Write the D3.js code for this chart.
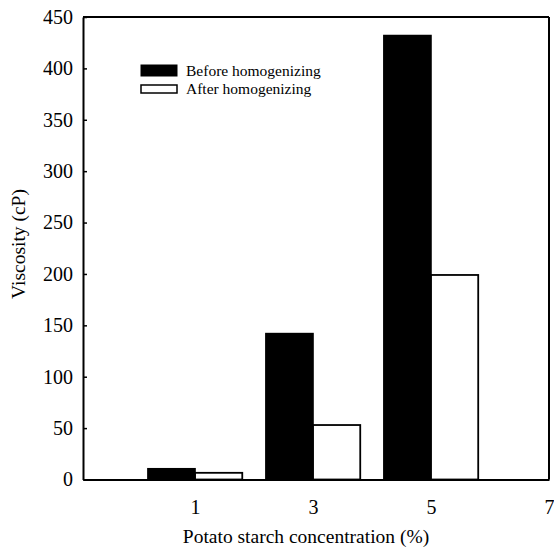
<!DOCTYPE html>
<html><head><meta charset="utf-8">
<script src="https://cdn.jsdelivr.net/npm/d3@7"></script>
<style>html,body{margin:0;padding:0;background:#fff;}svg{display:block;}</style>
</head><body>
<script>
const concentrations = [1, 3, 5];
const beforeValues = [10.5, 142, 432];
const afterValues = [6.5, 53, 199];
const seriesNames = ["Before homogenizing", "After homogenizing"];
const xTickLabels = [1, 3, 5, 7];
const yTickValues = [0, 50, 100, 150, 200, 250, 300, 350, 400, 450];

const W = 554, H = 547;
const svg = d3.select("body").append("svg").attr("width", W).attr("height", H)
  .style("font-family", "'Liberation Serif','Times New Roman',serif");

const x = d3.scaleLinear().domain([-0.9, 7]).range([83, 549]);
const y = d3.scaleLinear().domain([0, 450]).range([479.5, 17]);
const bw = 0.8;

const g = svg.append("g");

// bars
const before = concentrations.map((c, i) => ({c, v: beforeValues[i]}));
const after = concentrations.map((c, i) => ({c, v: afterValues[i]}));
g.selectAll("rect.b").data(before).enter().append("rect")
  .attr("x", d => x(d.c - bw)).attr("width", d => x(d.c) - x(d.c - bw))
  .attr("y", d => y(d.v)).attr("height", d => y(0) - y(d.v))
  .attr("fill", "#000").attr("stroke", "#000").attr("stroke-width", 1.5);
g.selectAll("rect.a").data(after).enter().append("rect")
  .attr("x", d => x(d.c)).attr("width", d => x(d.c + bw) - x(d.c))
  .attr("y", d => y(d.v)).attr("height", d => y(0) - y(d.v))
  .attr("fill", "#fff").attr("stroke", "#000").attr("stroke-width", 1.8);

// frame
const frame = svg.append("g").attr("stroke", "#000").attr("stroke-width", 2).attr("fill", "none");
frame.append("line").attr("x1", x(-0.9)).attr("x2", x(7)).attr("y1", y(450)).attr("y2", y(450));
frame.append("line").attr("x1", x(7)).attr("x2", x(7)).attr("y1", y(450)).attr("y2", y(0));

// y axis
const yAxis = svg.append("g").attr("transform", `translate(${x(-0.9)},0)`)
  .call(d3.axisLeft(y).tickValues(yTickValues).tickSizeInner(-4).tickSizeOuter(0).tickPadding(10));
yAxis.select(".domain").attr("stroke-width", 2);
yAxis.selectAll(".tick line").attr("stroke-width", 1.5);
yAxis.selectAll("text").attr("font-size", 20).attr("font-family", "'Liberation Serif',serif").attr("fill", "#000");

// x axis
const xAxis = svg.append("g").attr("transform", `translate(0,${y(0)})`)
  .call(d3.axisBottom(x).tickValues(xTickLabels).tickSize(0).tickPadding(20).tickFormat(d3.format("d")));
xAxis.select(".domain").attr("stroke-width", 2);
xAxis.selectAll("text").attr("font-size", 20).attr("font-family", "'Liberation Serif',serif").attr("fill", "#000");

// titles
svg.append("text").attr("x", 306).attr("y", 543)
  .attr("text-anchor", "middle").attr("font-size", 19.5).text("Potato starch concentration (%)");
svg.append("text").attr("transform", `translate(25,244) rotate(-90)`)
  .attr("text-anchor", "middle").attr("font-size", 19.5).text("Viscosity (cP)");

// legend
const leg = svg.append("g");
leg.append("rect").attr("x", 141).attr("y", 65).attr("width", 36).attr("height", 11)
  .attr("fill", "#000").attr("stroke", "#000");
leg.append("rect").attr("x", 141).attr("y", 85).attr("width", 36).attr("height", 8)
  .attr("fill", "#fff").attr("stroke", "#000").attr("stroke-width", 1.5);
leg.selectAll("text").data(seriesNames).enter().append("text")
  .attr("x", 186).attr("y", (d, i) => 76 + i * 18).attr("font-size", 15.5).text(d => d);
</script>
</body></html>
